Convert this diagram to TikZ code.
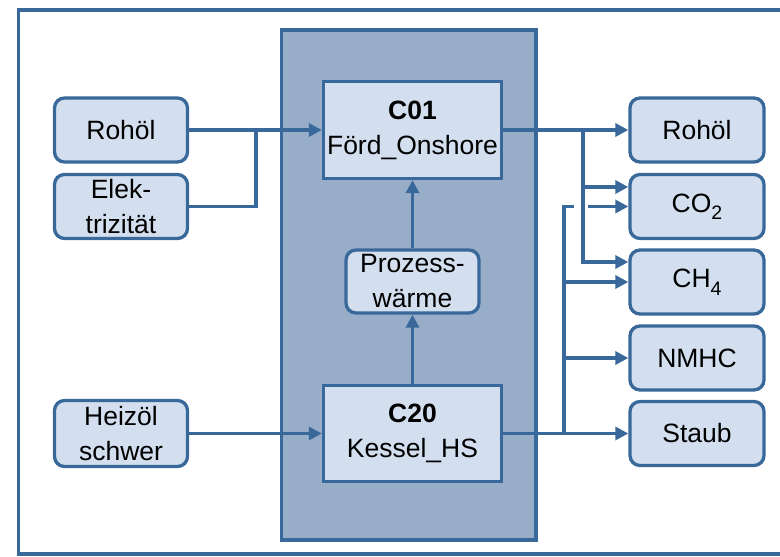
\documentclass[tikz,border=0pt]{standalone}
\usepackage{fontspec}
\setmainfont{Liberation Sans}
\usetikzlibrary{arrows.meta}

\definecolor{edge}{RGB}{57,105,155}
\definecolor{boxfill}{RGB}{211,223,238}
\definecolor{colfill}{RGB}{152,174,200}

% chemical subscript, set large and low as in the formulas
\newcommand{\chemsub}[1]{\raisebox{-7.5pt}{\fontsize{19.5}{19.5}\selectfont #1}}

\tikzset{
  base/.style={draw=edge, line width=3.3pt, fill=boxfill, inner sep=0pt,
    align=center, font=\fontsize{26.5}{35}\selectfont},
  flowbox/.style={base, rounded corners=10pt, minimum width=133pt, minimum height=64pt},
  procbox/.style={base, minimum width=178pt, minimum height=97pt},
  ln/.style={draw=edge, line width=3.3pt},
  arr/.style={ln, -{Triangle[length=13pt,width=13pt]}},
}

\begin{document}
\begin{tikzpicture}[x=1pt,y=-1pt]
  \useasboundingbox (0,0) rectangle (780,557);
  \clip (0,0) rectangle (780,557);

  % outer frame and the process column
  \draw[ln] (18.5,10) rectangle (800,554);
  \draw[ln, fill=colfill] (281.5,30) rectangle (536,540);

  % processes
  \node[procbox] (c01) at (412.5,130) {\textbf{C01}\\Förd\_Onshore};
  \node[procbox, minimum height=96pt] (c20) at (412.5,433.5) {\textbf{C20}\\Kessel\_HS};
  \node[flowbox, minimum height=63pt] (pw) at (412.5,281.5) {Prozess-\\wärme};

  % inputs
  \node[flowbox] (in1) at (121,130) {Rohöl};
  \node[flowbox] (in2) at (121,206.5) {Elek-\\trizität};
  \node[flowbox, minimum height=66pt] (in3) at (121,433.5) {Heizöl\\schwer};

  % outputs
  \node[flowbox, minimum width=134pt] (out1) at (697,130) {Rohöl};
  \node[flowbox, minimum width=134pt] (out2) at (697,206.5) {CO\chemsub{2}};
  \node[flowbox, minimum width=134pt] (out3) at (697,282) {CH\chemsub{4}};
  \node[flowbox, minimum width=134pt] (out4) at (697,358) {NMHC};
  \node[flowbox, minimum width=134pt] (out5) at (697,433.5) {Staub};

  % junction points
  \coordinate (j0) at (256,130);
  \coordinate (j1) at (583,130);
  \coordinate (j2) at (564,433.5);
  \coordinate (g1) at (574,206.5);
  \coordinate (g2) at (588,206.5);

  % inputs into the processes
  \draw[arr] (in1.east) -- (c01.west);
  \draw[ln] (in2.east) -| (j0);
  \draw[arr] (in3.east) -- (c20.west);

  % heat from the boiler to the production
  \draw[arr] (c20.north) -- (pw.south);
  \draw[arr] (pw.north) -- (c01.south);

  % outputs of C01
  \draw[arr] (c01.east) -- (out1.west);
  \draw[arr] (j1) |- ([yshift=19.5pt]out2.west);
  \draw[arr] (j1) |- ([yshift=20pt]out3.west);

  % outputs of C20 (the CO2 line jumps over the C01 branch)
  \draw[arr] (c20.east) -- (out5.west);
  \draw[ln] (j2) |- (g1);
  \draw[arr] (g2) -- (out2.west);
  \draw[arr] (j2 |- out3.west) -- (out3.west);
  \draw[arr] (j2 |- out4.west) -- (out4.west);
\end{tikzpicture}
\end{document}
